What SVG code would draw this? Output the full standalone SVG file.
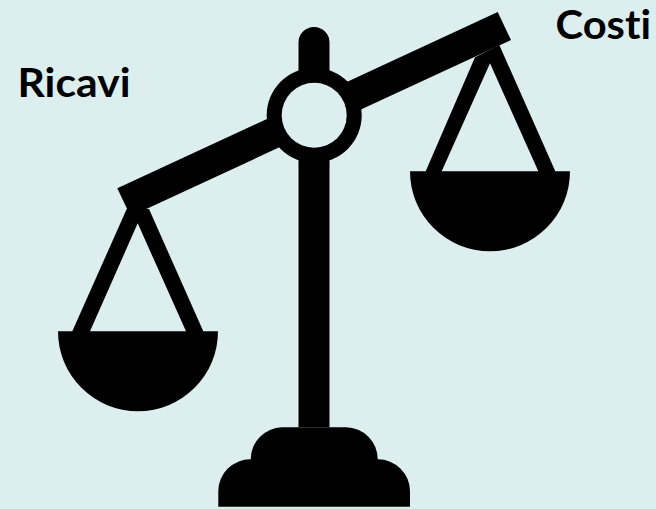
<svg xmlns="http://www.w3.org/2000/svg" width="656" height="509" viewBox="0 0 656 509">
<style>
.s{fill:#000}
.h{fill:#dceeee}
.t{font-family:Lato,"Liberation Sans",sans-serif;font-weight:700;font-size:41px;fill:#000;font-variant-ligatures:none}
</style>
<rect width="656" height="509" fill="#dceeee"/>
<g id="scale">
<path class="s" d="M298.5 100V42.5a15.5 15.5 0 0 1 31 0V100ZM298.5 130H329.5V427.3H298.5Z"/>
<path class="s" d="M497.7 12L511 40L130.6 216.3L117.3 188.3Z"/>
<circle class="s" cx="314.2" cy="115.3" r="47.5"/>
<circle class="h" cx="314.2" cy="115.3" r="32.5"/>
<path class="s" d="M58 331.3H72.3L126.7 209H149L203.3 331.3H218A80 80 0 0 1 58 331.3ZM137.7 223.3L90 331.3H186Z" fill-rule="evenodd"/>
<path class="s" d="M410 171.3H425.7L475 57.3L499.3 45L555.3 171.3H570A80 80 0 0 1 410 171.3ZM490 63.3L441.7 171.3H538.3Z" fill-rule="evenodd"/>
<path class="s" d="M218.3 506.7V491.5A32 32 0 0 1 250.7 459.3A32 32 0 0 1 282 427.3H346A32 32 0 0 1 377.7 459.3A32 32 0 0 1 410 491.5V506.7Z"/>
</g>
<g id="labels">
<text class="t" x="17.5" y="97" textLength="113" lengthAdjust="spacingAndGlyphs">Ricavi</text>
<text class="t" x="555.5" y="39" textLength="95.5" lengthAdjust="spacingAndGlyphs">Costi</text>
</g>
</svg>
